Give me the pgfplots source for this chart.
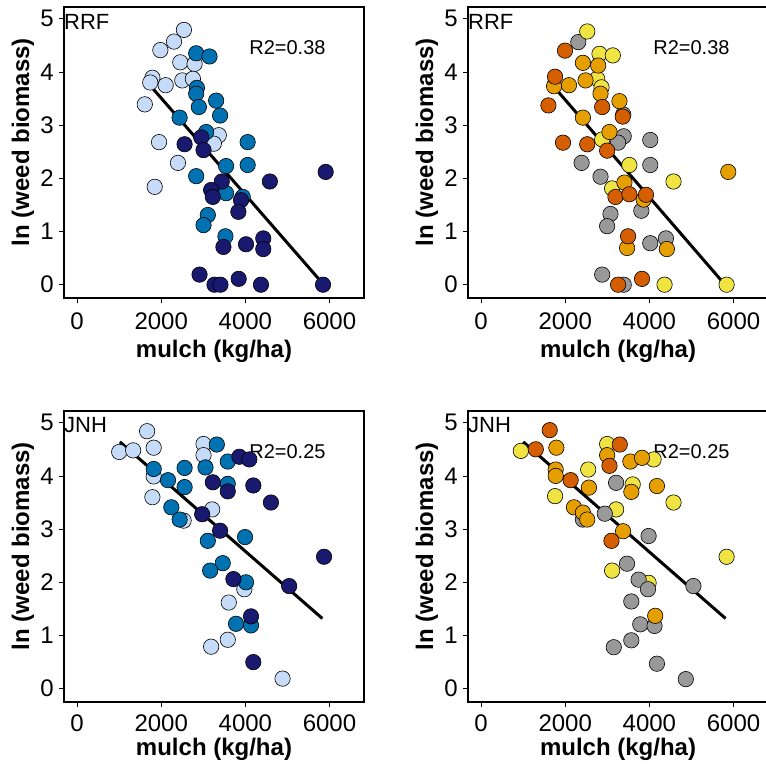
\documentclass[border=0pt]{standalone}
\usepackage{pgfplots}
\pgfplotsset{compat=1.18}
\usepackage{fontspec}
\setmainfont{Liberation Sans}
\definecolor{lblue}{HTML}{C6DBF7}
\definecolor{mblue}{HTML}{0072B2}
\definecolor{navy}{HTML}{191970}
\definecolor{yel}{HTML}{F0E442}
\definecolor{ora}{HTML}{E69F00}
\definecolor{ver}{HTML}{D55E00}
\definecolor{gry}{HTML}{999999}
\begin{document}
\begin{tikzpicture}
\pgfplotsset{
  panel/.style={
    scale only axis, width=300pt, height=291pt,
    xmin=-310, xmax=6820, ymin=-0.25, ymax=5.22,
    xtick={0,2000,4000,6000}, xticklabels={0,2000,4000,6000},
    ytick={0,1,2,3,4,5}, yticklabels={0,1,2,3,4,5},
    tick align=outside, xtick pos=left, ytick pos=left,
    major tick length=5pt,
    every tick/.style={black, line width=0.8pt},
    axis line style={line width=1.3pt},
    clip=false,
    ticklabel style={font=\fontsize{24}{24}\selectfont, inner sep=0pt},
    yticklabel style={anchor=east, xshift=-5pt},
    label style={font=\fontsize{24}{24}\selectfont\bfseries},
    xlabel={mulch (kg/ha)}, ylabel={ln (weed biomass)},
    ylabel style={at={(axis description cs:-0.137,0.536)}, anchor=center},
  },
  pts/.style={only marks, mark=*, mark size=7.7pt, mark options={draw=black, line width=0.6pt, fill=#1}},
  fit/.style={black, line width=3pt, no marks},
}
% ---------------- top left ----------------
\begin{axis}[panel, at={(64pt,-7pt)}, anchor=north west,
  xticklabel style={anchor=base, yshift=-26pt},
  xlabel style={at={(axis description cs:0.5,0)}, anchor=base, yshift=-59pt}]
\addplot[pts=lblue] coordinates {(2540,4.79)(2304,4.57)(1980,4.41)(2454,4.18)(2793,4.15)(1791,3.89)(2106,3.75)(2501,3.84)(2753,3.87)(1740,3.80)(1610,3.39)(1949,2.68)(3369,2.81)(3251,2.65)(2398,2.29)(1846,1.84)};
\addplot[pts=mblue] coordinates {(2832,4.35)(3148,4.29)(2848,3.70)(2832,3.59)(3306,3.46)(2895,3.34)(3400,3.18)(2438,3.14)(3069,2.87)(4055,2.68)(3542,2.23)(4055,2.25)(2832,2.04)(3542,1.72)(3937,1.65)(3108,1.31)(3006,1.12)(3527,0.91)};
\addplot[pts=navy] coordinates {(2556,2.64)(2951,2.77)(3006,2.53)(3440,1.94)(3187,1.78)(3227,1.65)(3897,1.59)(3834,1.37)(4583,1.94)(5909,2.12)(3479,0.71)(4016,0.76)(4426,0.87)(4426,0.67)(2911,0.19)(3266,0.0)(3408,0.0)(3842,0.11)(4371,0.0)(5846,0.0)};
\addplot[fit] coordinates {(1633,3.84)(5830,0.03)};
\node[anchor=base west, inner sep=0pt, font=\fontsize{22}{22}\selectfont] at (axis cs:-310,4.80) {RRF};
\node[font=\fontsize{20}{20}\selectfont] at (axis cs:5000,4.46) {R2=0.38};
\end{axis}
% ---------------- top right ----------------
\begin{axis}[panel, at={(468pt,-7pt)}, anchor=north west,
  xticklabel style={anchor=base, yshift=-26pt},
  xlabel style={at={(axis description cs:0.5,0)}, anchor=base, yshift=-59pt}]
\addplot[pts=gry] coordinates {(2311,4.56)(3391,2.79)(3257,2.67)(4022,2.72)(2390,2.29)(4022,2.25)(2839,2.03)(3809,1.39)(3076,1.33)(2997,1.10)(4022,0.78)(4393,0.87)(2879,0.19)(3391,0.0)(3380,3.20)};
\addplot[pts=yel] coordinates {(2524,4.76)(2815,4.34)(3131,4.31)(2760,3.87)(2863,3.71)(2879,2.73)(3525,2.25)(4574,1.94)(3115,1.81)(4361,0.0)(5836,0.0)};
\addplot[pts=ora] coordinates {(2421,4.17)(2784,4.12)(2484,3.84)(2090,3.75)(1735,3.73)(2839,3.59)(3289,3.45)(2421,3.14)(3052,2.87)(3407,1.92)(3864,1.60)(5875,2.12)(3470,0.69)(4416,0.67)};
\addplot[pts=ver] coordinates {(1995,4.40)(1759,3.91)(1601,3.37)(2879,3.34)(3367,3.16)(1948,2.67)(2524,2.64)(2997,2.52)(3194,1.65)(3525,1.70)(3920,1.69)(3494,0.91)(3257,0.0)(3825,0.11)};
\addplot[fit] coordinates {(1601,3.84)(5797,0.0)};
\node[anchor=base west, inner sep=0pt, font=\fontsize{22}{22}\selectfont] at (axis cs:-310,4.80) {RRF};
\node[font=\fontsize{20}{20}\selectfont] at (axis cs:5000,4.46) {R2=0.38};
\end{axis}
% ---------------- bottom left ----------------
\begin{axis}[panel, at={(64pt,-411pt)}, anchor=north west,
  xticklabel style={anchor=base, yshift=-24pt},
  xlabel style={at={(axis description cs:0.5,0)}, anchor=base, yshift=-53pt}]
\addplot[pts=lblue] coordinates {(1665,4.84)(1002,4.45)(1333,4.48)(1822,4.53)(3006,4.60)(3006,4.39)(1822,3.99)(1791,3.60)(3211,3.37)(2533,3.16)(3976,1.87)(3606,1.62)(3582,0.92)(3187,0.79)(4884,0.19)};
\addplot[pts=mblue] coordinates {(3322,4.59)(3582,4.27)(2556,4.15)(1822,4.13)(2162,3.92)(3053,4.16)(2556,3.79)(3582,3.85)(2241,3.41)(2438,3.18)(3108,2.78)(3992,2.85)(3463,2.36)(3164,2.22)(4016,2.00)(3779,1.22)(4134,1.19)};
\addplot[pts=navy] coordinates {(3858,4.36)(4095,4.31)(3227,3.88)(3582,3.71)(4189,3.82)(4608,3.50)(2974,3.28)(3400,2.97)(3716,2.06)(5041,1.93)(5870,2.48)(4134,1.36)(4189,0.50)};
\addplot[fit] coordinates {(1018,4.64)(5830,1.32)};
\node[anchor=base west, inner sep=0pt, font=\fontsize{22}{22}\selectfont] at (axis cs:-310,4.81) {JNH};
\node[font=\fontsize{20}{20}\selectfont] at (axis cs:5000,4.46) {R2=0.25};
\end{axis}
% ---------------- bottom right ----------------
\begin{axis}[panel, at={(468pt,-411pt)}, anchor=north west,
  xticklabel style={anchor=base, yshift=-24pt},
  xlabel style={at={(axis description cs:0.5,0)}, anchor=base, yshift=-53pt}]
\addplot[pts=yel] coordinates {(946,4.47)(2997,4.60)(2547,4.12)(4101,4.31)(3604,3.84)(1759,3.62)(3210,3.37)(4574,3.50)(3115,2.22)(3982,1.99)(5836,2.48)};
\addplot[pts=gry] coordinates {(3210,3.87)(2941,3.29)(2421,3.18)(3982,2.87)(3470,2.35)(3745,2.05)(3967,1.87)(5047,1.93)(3571,1.64)(3784,1.21)(4123,1.18)(3571,0.91)(3154,0.78)(4180,0.47)(4866,0.18)};
\addplot[pts=ora] coordinates {(1790,4.53)(2997,4.39)(3549,4.27)(3825,4.34)(1774,4.12)(1774,4.00)(2563,3.78)(3572,3.70)(4180,3.81)(2208,3.41)(2421,3.31)(2524,3.18)(3375,2.96)(4139,1.37)};
\addplot[pts=ver] coordinates {(1632,4.86)(1301,4.50)(3297,4.59)(3052,4.19)(2129,3.92)(3099,2.78)};
\addplot[fit] coordinates {(1002,4.64)(5812,1.32)};
\node[anchor=base west, inner sep=0pt, font=\fontsize{22}{22}\selectfont] at (axis cs:-310,4.81) {JNH};
\node[font=\fontsize{20}{20}\selectfont] at (axis cs:5000,4.46) {R2=0.25};
\end{axis}
\pgfresetboundingbox
\useasboundingbox (0,0) rectangle (765pt,-767pt);
\end{tikzpicture}
\end{document}
